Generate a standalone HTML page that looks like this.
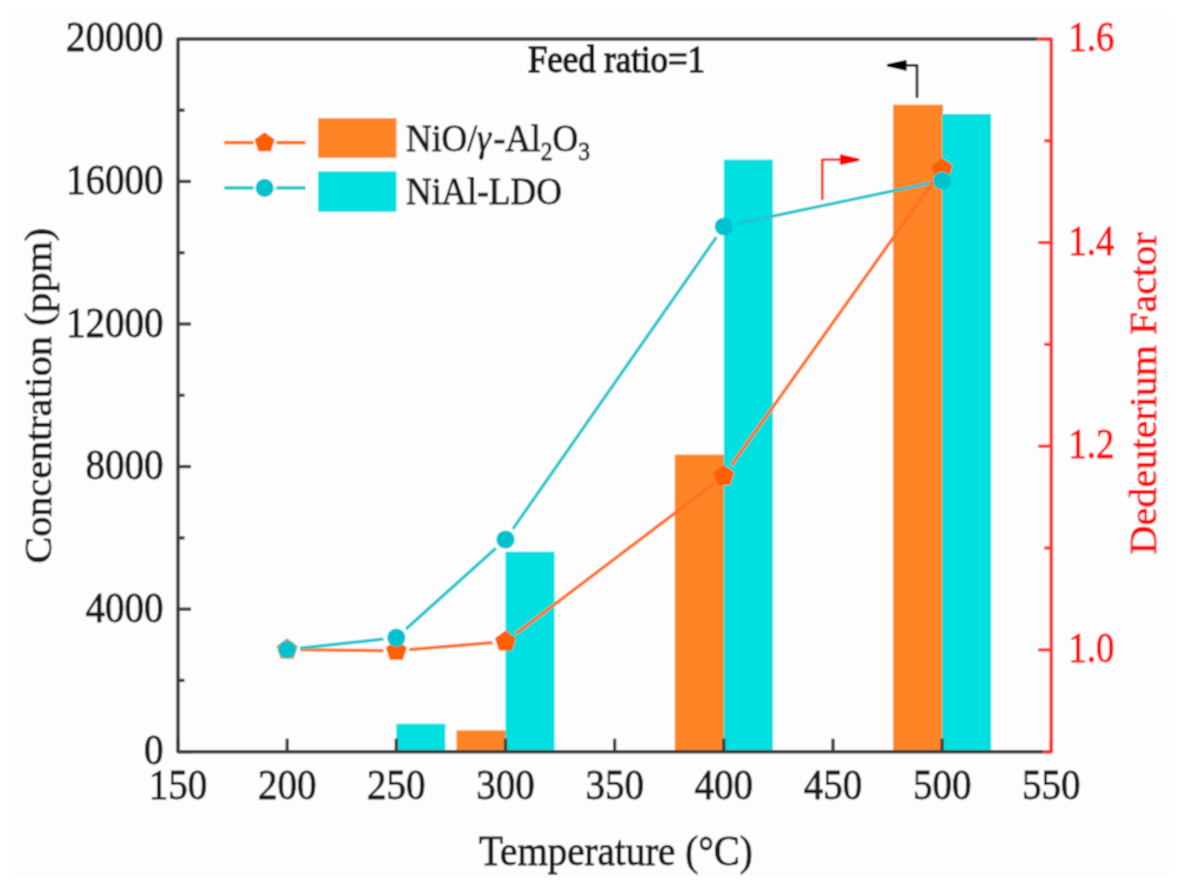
<!DOCTYPE html>
<html><head><meta charset="utf-8"><title>Chart</title>
<style>
html,body{margin:0;padding:0;background:#fff;}
body{width:1182px;height:888px;overflow:hidden;font-family:"Liberation Serif",serif;}
svg{display:block;}

</style></head><body>
<svg width="1182" height="888" viewBox="0 0 1182 888">
<defs><filter id="soft" x="0" y="0" width="100%" height="100%"><feConvolveMatrix order="3" kernelMatrix="1 2 1 2 4 2 1 2 1" divisor="16" edgeMode="duplicate" preserveAlpha="true"/></filter></defs>
<g filter="url(#soft)">
<rect x="0" y="0" width="1182" height="888" fill="#ffffff"/>
<rect x="11" y="10" width="1158" height="867" fill="#fdfdfd"/>
<rect x="456.49" y="730.40" width="49.80" height="21.30" fill="#ff8427"/>
<rect x="674.81" y="454.60" width="49.80" height="297.10" fill="#ff8427"/>
<rect x="893.14" y="104.70" width="49.80" height="647.00" fill="#ff8427"/>
<rect x="396.32" y="723.70" width="49.00" height="28.00" fill="#00e0e0"/>
<rect x="505.49" y="551.70" width="49.00" height="200.00" fill="#00e0e0"/>
<rect x="723.81" y="159.60" width="49.00" height="592.10" fill="#00e0e0"/>
<rect x="942.14" y="113.90" width="49.00" height="637.80" fill="#00e0e0"/>
<line x1="178.00" y1="751.70" x2="178.00" y2="738.70" stroke="#3a3c3e" stroke-width="3.3"/>
<line x1="287.16" y1="751.70" x2="287.16" y2="738.70" stroke="#3a3c3e" stroke-width="3.3"/>
<line x1="396.32" y1="751.70" x2="396.32" y2="738.70" stroke="#3a3c3e" stroke-width="3.3"/>
<line x1="505.49" y1="751.70" x2="505.49" y2="738.70" stroke="#3a3c3e" stroke-width="3.3"/>
<line x1="614.65" y1="751.70" x2="614.65" y2="738.70" stroke="#3a3c3e" stroke-width="3.3"/>
<line x1="723.81" y1="751.70" x2="723.81" y2="738.70" stroke="#3a3c3e" stroke-width="3.3"/>
<line x1="832.98" y1="751.70" x2="832.98" y2="738.70" stroke="#3a3c3e" stroke-width="3.3"/>
<line x1="942.14" y1="751.70" x2="942.14" y2="738.70" stroke="#3a3c3e" stroke-width="3.3"/>
<line x1="1051.30" y1="751.70" x2="1051.30" y2="738.70" stroke="#3a3c3e" stroke-width="3.3"/>
<line x1="178.00" y1="751.70" x2="191.00" y2="751.70" stroke="#3a3c3e" stroke-width="3.3"/>
<line x1="178.00" y1="680.42" x2="184.50" y2="680.42" stroke="#3a3c3e" stroke-width="3.3"/>
<line x1="178.00" y1="609.14" x2="191.00" y2="609.14" stroke="#3a3c3e" stroke-width="3.3"/>
<line x1="178.00" y1="537.86" x2="184.50" y2="537.86" stroke="#3a3c3e" stroke-width="3.3"/>
<line x1="178.00" y1="466.58" x2="191.00" y2="466.58" stroke="#3a3c3e" stroke-width="3.3"/>
<line x1="178.00" y1="395.30" x2="184.50" y2="395.30" stroke="#3a3c3e" stroke-width="3.3"/>
<line x1="178.00" y1="324.02" x2="191.00" y2="324.02" stroke="#3a3c3e" stroke-width="3.3"/>
<line x1="178.00" y1="252.74" x2="184.50" y2="252.74" stroke="#3a3c3e" stroke-width="3.3"/>
<line x1="178.00" y1="181.46" x2="191.00" y2="181.46" stroke="#3a3c3e" stroke-width="3.3"/>
<line x1="178.00" y1="110.18" x2="184.50" y2="110.18" stroke="#3a3c3e" stroke-width="3.3"/>
<line x1="1051.30" y1="751.70" x2="1044.30" y2="751.70" stroke="#ff3333" stroke-width="3.2"/>
<line x1="1051.30" y1="649.87" x2="1038.30" y2="649.87" stroke="#ff3333" stroke-width="3.2"/>
<line x1="1051.30" y1="548.04" x2="1044.30" y2="548.04" stroke="#ff3333" stroke-width="3.2"/>
<line x1="1051.30" y1="446.21" x2="1038.30" y2="446.21" stroke="#ff3333" stroke-width="3.2"/>
<line x1="1051.30" y1="344.39" x2="1044.30" y2="344.39" stroke="#ff3333" stroke-width="3.2"/>
<line x1="1051.30" y1="242.56" x2="1038.30" y2="242.56" stroke="#ff3333" stroke-width="3.2"/>
<line x1="1051.30" y1="140.73" x2="1044.30" y2="140.73" stroke="#ff3333" stroke-width="3.2"/>
<path d="M1037,38.90 L178.00,38.90 L178.00,751.70 L1043,751.70" fill="none" stroke="#3a3c3e" stroke-width="3.5" stroke-linejoin="round"/>
<path d="M1037,38.90 L1051.30,38.90 L1051.30,751.70 L1043,751.70" fill="none" stroke="#ff3333" stroke-width="3.5" stroke-linejoin="round"/>
<line x1="300.16" y1="649.74" x2="383.33" y2="650.66" stroke="#ff6f22" stroke-width="3.2"/>
<line x1="409.28" y1="649.71" x2="492.53" y2="642.69" stroke="#ff6f22" stroke-width="3.2"/>
<line x1="515.85" y1="633.74" x2="713.45" y2="483.86" stroke="#ff6f22" stroke-width="3.2"/>
<line x1="731.35" y1="465.41" x2="934.60" y2="179.59" stroke="#ff6f22" stroke-width="3.2"/>
<line x1="300.09" y1="648.10" x2="383.40" y2="639.10" stroke="#1cc6d0" stroke-width="3.2"/>
<line x1="405.99" y1="629.01" x2="495.82" y2="548.19" stroke="#1cc6d0" stroke-width="3.2"/>
<line x1="512.92" y1="528.84" x2="716.38" y2="237.16" stroke="#1cc6d0" stroke-width="3.2"/>
<line x1="736.53" y1="223.83" x2="929.42" y2="183.27" stroke="#1cc6d0" stroke-width="3.2"/>
<polygon points="287.16,638.60 297.62,646.20 293.63,658.50 280.70,658.50 276.70,646.20" fill="#ff5e00"/>
<polygon points="396.32,639.80 406.79,647.40 402.79,659.70 389.86,659.70 385.86,647.40" fill="#ff5e00"/>
<polygon points="505.49,630.60 515.95,638.20 511.95,650.50 499.02,650.50 495.03,638.20" fill="#ff5e00"/>
<polygon points="723.81,465.00 734.27,472.60 730.28,484.90 717.35,484.90 713.35,472.60" fill="#ff5e00"/>
<polygon points="942.14,158.00 952.60,165.60 948.60,177.90 935.67,177.90 931.68,165.60" fill="#ff5e00"/>
<circle cx="287.16" cy="649.50" r="9.1" fill="#00c2cc"/>
<circle cx="396.32" cy="637.70" r="9.1" fill="#00c2cc"/>
<circle cx="505.49" cy="539.50" r="9.1" fill="#00c2cc"/>
<circle cx="723.81" cy="226.50" r="9.1" fill="#00c2cc"/>
<circle cx="942.14" cy="180.60" r="9.1" fill="#00c2cc"/>
<text transform="translate(163.60,764.20) scale(1.000,1.080)" font-family="Liberation Serif, serif" font-size="39" text-anchor="end" fill="#1a1a1a" stroke="#1a1a1a" stroke-width="0.75" >0</text>
<text transform="translate(163.60,621.64) scale(1.000,1.080)" font-family="Liberation Serif, serif" font-size="39" text-anchor="end" fill="#1a1a1a" stroke="#1a1a1a" stroke-width="0.75" >4000</text>
<text transform="translate(163.60,479.08) scale(1.000,1.080)" font-family="Liberation Serif, serif" font-size="39" text-anchor="end" fill="#1a1a1a" stroke="#1a1a1a" stroke-width="0.75" >8000</text>
<text transform="translate(163.60,336.52) scale(1.000,1.080)" font-family="Liberation Serif, serif" font-size="39" text-anchor="end" fill="#1a1a1a" stroke="#1a1a1a" stroke-width="0.75" >12000</text>
<text transform="translate(163.60,193.96) scale(1.000,1.080)" font-family="Liberation Serif, serif" font-size="39" text-anchor="end" fill="#1a1a1a" stroke="#1a1a1a" stroke-width="0.75" >16000</text>
<text transform="translate(163.60,51.40) scale(1.000,1.080)" font-family="Liberation Serif, serif" font-size="39" text-anchor="end" fill="#1a1a1a" stroke="#1a1a1a" stroke-width="0.75" >20000</text>
<text transform="translate(178.00,798.60) scale(1.000,1.080)" font-family="Liberation Serif, serif" font-size="39" text-anchor="middle" fill="#1a1a1a" stroke="#1a1a1a" stroke-width="0.75" >150</text>
<text transform="translate(287.16,798.60) scale(1.000,1.080)" font-family="Liberation Serif, serif" font-size="39" text-anchor="middle" fill="#1a1a1a" stroke="#1a1a1a" stroke-width="0.75" >200</text>
<text transform="translate(396.32,798.60) scale(1.000,1.080)" font-family="Liberation Serif, serif" font-size="39" text-anchor="middle" fill="#1a1a1a" stroke="#1a1a1a" stroke-width="0.75" >250</text>
<text transform="translate(505.49,798.60) scale(1.000,1.080)" font-family="Liberation Serif, serif" font-size="39" text-anchor="middle" fill="#1a1a1a" stroke="#1a1a1a" stroke-width="0.75" >300</text>
<text transform="translate(614.65,798.60) scale(1.000,1.080)" font-family="Liberation Serif, serif" font-size="39" text-anchor="middle" fill="#1a1a1a" stroke="#1a1a1a" stroke-width="0.75" >350</text>
<text transform="translate(723.81,798.60) scale(1.000,1.080)" font-family="Liberation Serif, serif" font-size="39" text-anchor="middle" fill="#1a1a1a" stroke="#1a1a1a" stroke-width="0.75" >400</text>
<text transform="translate(832.98,798.60) scale(1.000,1.080)" font-family="Liberation Serif, serif" font-size="39" text-anchor="middle" fill="#1a1a1a" stroke="#1a1a1a" stroke-width="0.75" >450</text>
<text transform="translate(942.14,798.60) scale(1.000,1.080)" font-family="Liberation Serif, serif" font-size="39" text-anchor="middle" fill="#1a1a1a" stroke="#1a1a1a" stroke-width="0.75" >500</text>
<text transform="translate(1051.30,798.60) scale(1.000,1.080)" font-family="Liberation Serif, serif" font-size="39" text-anchor="middle" fill="#1a1a1a" stroke="#1a1a1a" stroke-width="0.75" >550</text>
<text transform="translate(1068.50,662.07) scale(0.940,1.080)" font-family="Liberation Serif, serif" font-size="39" text-anchor="start" fill="#ff1111" stroke="#ff1111" stroke-width="0.75" >1.0</text>
<text transform="translate(1068.50,458.41) scale(0.940,1.080)" font-family="Liberation Serif, serif" font-size="39" text-anchor="start" fill="#ff1111" stroke="#ff1111" stroke-width="0.75" >1.2</text>
<text transform="translate(1068.50,254.76) scale(0.940,1.080)" font-family="Liberation Serif, serif" font-size="39" text-anchor="start" fill="#ff1111" stroke="#ff1111" stroke-width="0.75" >1.4</text>
<text transform="translate(1068.50,51.10) scale(0.940,1.080)" font-family="Liberation Serif, serif" font-size="39" text-anchor="start" fill="#ff1111" stroke="#ff1111" stroke-width="0.75" >1.6</text>
<text transform="translate(479.00,864.50) scale(1.000,1.080)" font-family="Liberation Serif, serif" font-size="39" text-anchor="start" fill="#1a1a1a" stroke="#1a1a1a" stroke-width="0.75" >Temperature (&#176;C)</text>
<text transform="translate(50.6,395.75) rotate(-90) scale(1.03,0.95)" font-family="Liberation Serif, serif" font-size="39" text-anchor="middle" fill="#1a1a1a" stroke="#1a1a1a" stroke-width="0.75">Concentration (ppm)</text>
<text transform="translate(1156.2,393.4) rotate(-90) scale(1.03,0.95)" font-family="Liberation Serif, serif" font-size="39" text-anchor="middle" fill="#ff1111" stroke="#ff1111" stroke-width="0.75">Dedeuterium Factor</text>
<text transform="translate(528.00,71.80) scale(0.940,1.000)" font-family="Liberation Serif, serif" font-size="37" text-anchor="start" fill="#1a1a1a" stroke="#1a1a1a" stroke-width="0.75" style="stroke-width:1.4px">Feed ratio=1</text>
<path d="M917,97 L917,65.3 L903,65.3" fill="none" stroke="#111" stroke-width="2.6" stroke-linejoin="round" stroke-linecap="round"/>
<polygon points="887.5,64.6 906,60.6 906,70.2 887.5,66.0" fill="#000" stroke="#000" stroke-width="1.2" stroke-linejoin="round"/>
<path d="M822.2,199 L822.2,159.7 L843,159.7" fill="none" stroke="#ff2222" stroke-width="2.6" stroke-linejoin="round" stroke-linecap="round"/>
<polygon points="858.8,159.0 840.5,154.9 840.5,164.5 858.8,160.4" fill="#ff0000" stroke="#ff0000" stroke-width="1.2" stroke-linejoin="round"/>
<line x1="224.3" y1="142.6" x2="253.5" y2="142.6" stroke="#ff6f22" stroke-width="3.4"/>
<line x1="276.5" y1="142.6" x2="305.5" y2="142.6" stroke="#ff6f22" stroke-width="3.4"/>
<polygon points="264.60,132.30 274.59,139.56 270.77,151.29 258.43,151.29 254.61,139.56" fill="#ff5e00"/>
<line x1="224.3" y1="187.9" x2="253.5" y2="187.9" stroke="#1cc6d0" stroke-width="3.4"/>
<line x1="276.5" y1="187.9" x2="305.5" y2="187.9" stroke="#1cc6d0" stroke-width="3.4"/>
<circle cx="264.6" cy="187.9" r="9.1" fill="#00c2cc"/>
<rect x="318.1" y="118.2" width="78.3" height="39.6" fill="#ff8427"/>
<rect x="318.1" y="171.4" width="78.3" height="40.4" fill="#00e0e0"/>
<text transform="translate(406.00,150.80) scale(0.960,1.000)" font-family="Liberation Serif, serif" font-size="37" text-anchor="start" fill="#1a1a1a" stroke="#1a1a1a" stroke-width="0.75" >NiO/<tspan font-style="italic">&#947;</tspan><tspan dx="2.5">-Al</tspan><tspan font-size="24.5" dy="9">2</tspan><tspan dy="-9">O</tspan><tspan font-size="24.5" dy="9">3</tspan></text>
<text transform="translate(406.00,203.70) scale(0.960,1.000)" font-family="Liberation Serif, serif" font-size="37" text-anchor="start" fill="#1a1a1a" stroke="#1a1a1a" stroke-width="0.75" >NiAl-LDO</text>
</g>
</svg>
</body></html>
